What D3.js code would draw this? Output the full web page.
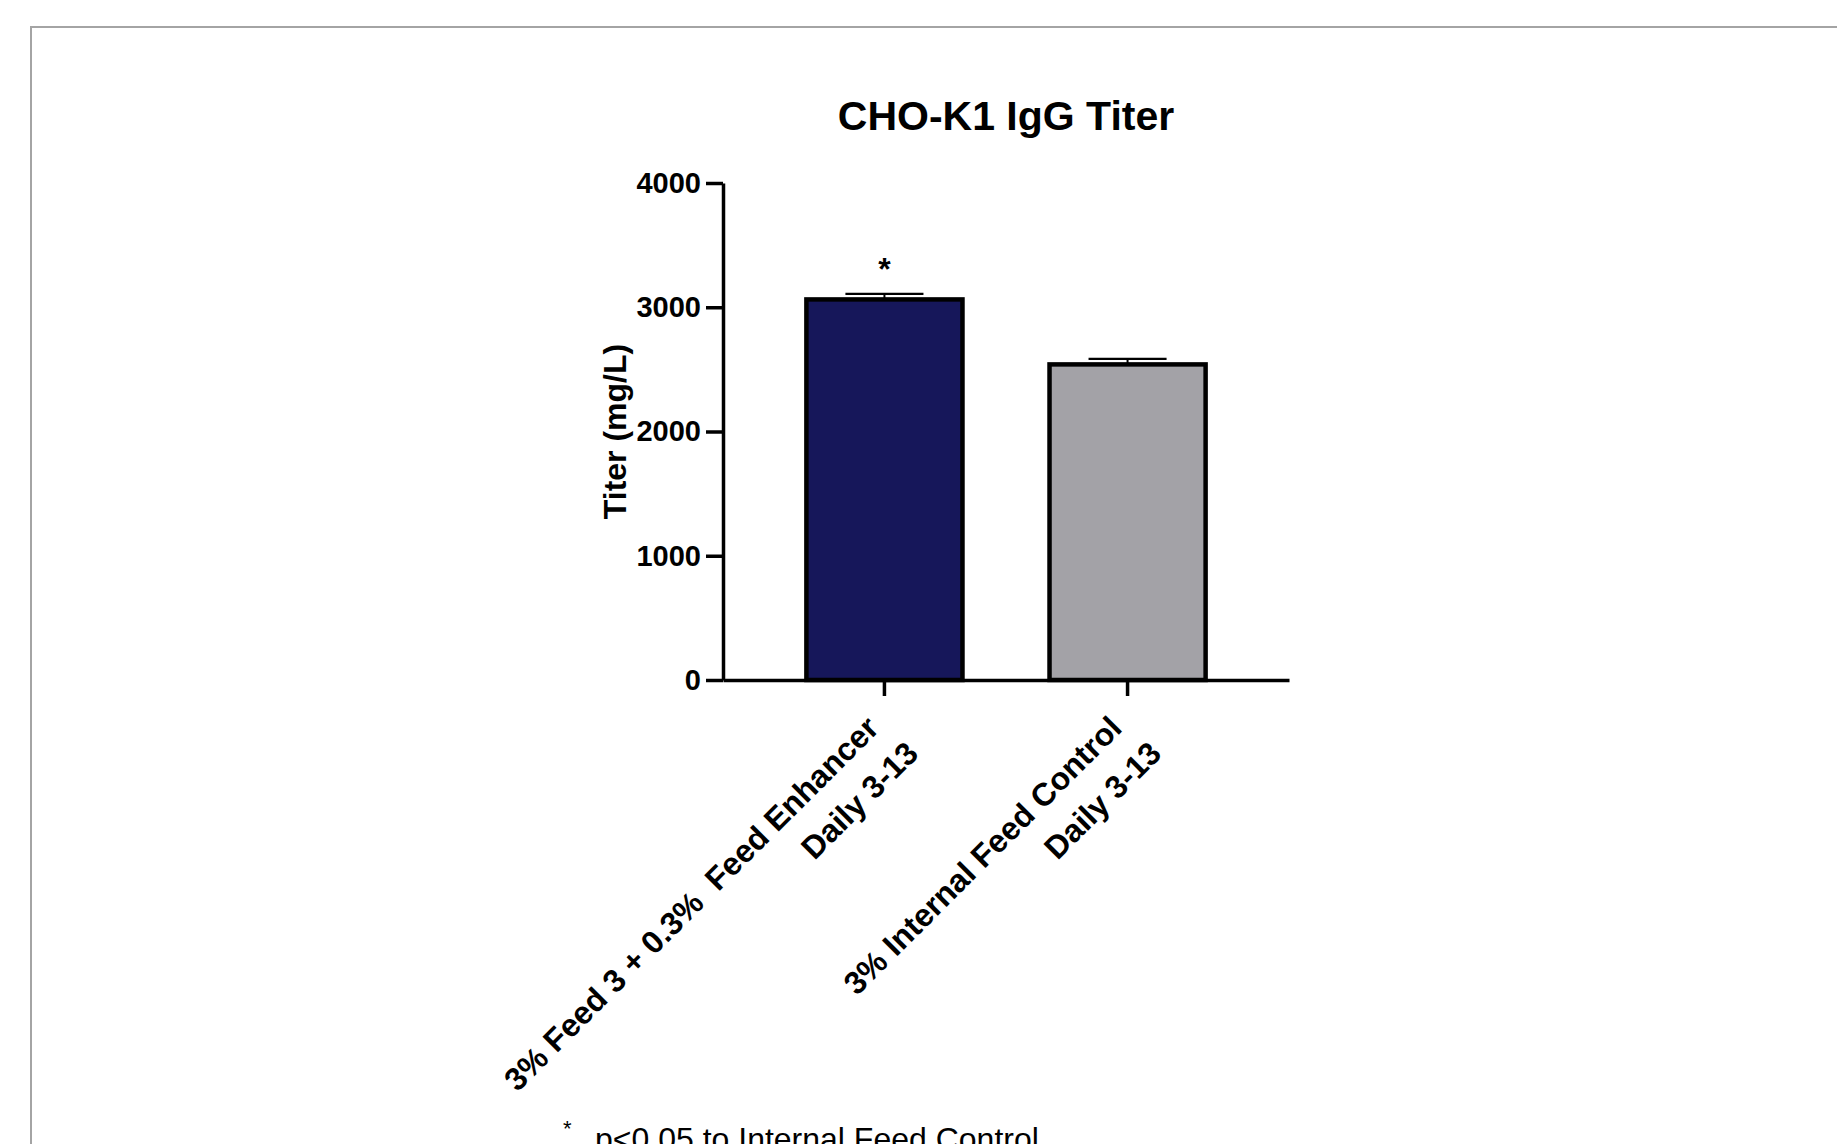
<!DOCTYPE html>
<html>
<head>
<meta charset="utf-8">
<script src="https://cdn.jsdelivr.net/npm/d3@7"></script>
<style>
  body { margin: 0; background: #fff; }
  text { font-family: "Liberation Sans", Arial, sans-serif; }
</style>
</head>
<body>
<div id="chart-container"></div>
<script>
// chart values
const categories = [
    ["3% Feed 3 + 0.3%  Feed Enhancer", "Daily 3-13"],
    ["3% Internal Feed Control", "Daily 3-13"]
];
const titerMeans = [3063, 2540];
const titerErrors = [45, 45];
const significance = ["*", ""];
const barColors = ["#16175a", "#a3a2a7"];
const yTicks = [0, 1000, 2000, 3000, 4000];

const svgWidth = 1837;
const svgHeight = 1144;
const margin = { top: 183, left: 723, right: 548, bottom: 464 };
const plotW = svgWidth - margin.left - margin.right;
const plotH = svgHeight - margin.top - margin.bottom;

const svg = d3.select("#chart-container").append("svg")
    .attr("width", svgWidth)
    .attr("height", svgHeight);

// grey frame round the figure
svg.append("path")
    .attr("d", `M31,${svgHeight + 5} V27 H${svgWidth + 5}`)
    .attr("fill", "none")
    .attr("stroke", "#a4a4a4")
    .attr("stroke-width", 2);

const g = svg.append("g")
    .attr("transform", `translate(${margin.left},${margin.top})`);

const x = d3.scaleBand()
    .domain(d3.range(categories.length))
    .range([0, plotW])
    .paddingInner(0.358)
    .paddingOuter(0.343);

const y = d3.scaleLinear()
    .domain([0, 4000])
    .range([plotH, 0]);

// bars
g.selectAll(".bar")
    .data(titerMeans)
    .join("rect")
    .attr("class", "bar")
    .attr("x", (d, i) => x(i))
    .attr("y", d => y(d))
    .attr("width", x.bandwidth())
    .attr("height", d => plotH - y(d))
    .attr("fill", (d, i) => barColors[i])
    .attr("stroke", "#000")
    .attr("stroke-width", 4.5);

// error bars (upper half only)
const capW = x.bandwidth() / 2;
titerMeans.forEach((m, i) => {
    const cx = x(i) + x.bandwidth() / 2;
    g.append("line")
        .attr("x1", cx).attr("x2", cx)
        .attr("y1", y(m)).attr("y2", y(m + titerErrors[i]))
        .attr("stroke", "#000").attr("stroke-width", 2);
    g.append("line")
        .attr("x1", cx - capW / 2).attr("x2", cx + capW / 2)
        .attr("y1", y(m + titerErrors[i])).attr("y2", y(m + titerErrors[i]))
        .attr("stroke", "#000").attr("stroke-width", 2.2);
    if (significance[i]) {
        g.append("text")
            .attr("x", cx)
            .attr("y", y(m + titerErrors[i]) - 14)
            .attr("text-anchor", "middle")
            .style("font-size", "32px")
            .style("font-weight", "bold")
            .text(significance[i]);
    }
});

// y axis
const yAxis = g.append("g")
    .call(d3.axisLeft(y).tickValues(yTicks).tickFormat(d3.format("d"))
        .tickSize(17).tickSizeOuter(0).tickPadding(5));
yAxis.select(".domain").attr("stroke-width", 3.5);
yAxis.selectAll(".tick line").attr("stroke-width", 3.5);
yAxis.selectAll(".tick text")
    .style("font-size", "29px")
    .style("font-weight", "bold")
    .attr("fill", "#000");

// x axis
const xAxis = g.append("g")
    .attr("transform", `translate(0,${plotH})`)
    .call(d3.axisBottom(x).tickSize(16).tickSizeOuter(0).tickFormat(""));
xAxis.select(".domain").attr("stroke-width", 3.5);
xAxis.selectAll(".tick line").attr("stroke-width", 3.5);

// rotated category labels
categories.forEach((lines, i) => {
    const cx = x(i) + x.bandwidth() / 2;
    const lbl = g.append("text")
        .attr("transform", `translate(${cx - 4},${plotH + 50}) rotate(-45)`)
        .attr("text-anchor", "end")
        .style("font-size", "32px")
        .style("font-weight", "bold")
        .style("white-space", "pre");
    lbl.append("tspan").attr("x", 0).attr("y", 0).text(lines[0]);
    lbl.append("tspan").attr("x", 10).attr("y", 46).text(lines[1]);
});

// title
svg.append("text")
    .attr("x", margin.left + plotW / 2)
    .attr("y", 130)
    .attr("text-anchor", "middle")
    .style("font-size", "41px")
    .style("font-weight", "bold")
    .text("CHO-K1 IgG Titer");

// y axis label
svg.append("text")
    .attr("transform", `translate(626,${margin.top + plotH / 2}) rotate(-90)`)
    .attr("text-anchor", "middle")
    .style("font-size", "32px")
    .style("font-weight", "bold")
    .text("Titer (mg/L)");

// footnote
svg.append("text")
    .attr("x", 563)
    .attr("y", 1136)
    .style("font-size", "22px")
    .text("*");
svg.append("text")
    .attr("x", 595)
    .attr("y", 1150)
    .style("font-size", "32px")
    .text("p<0.05 to Internal Feed Control");
</script>
</body>
</html>
